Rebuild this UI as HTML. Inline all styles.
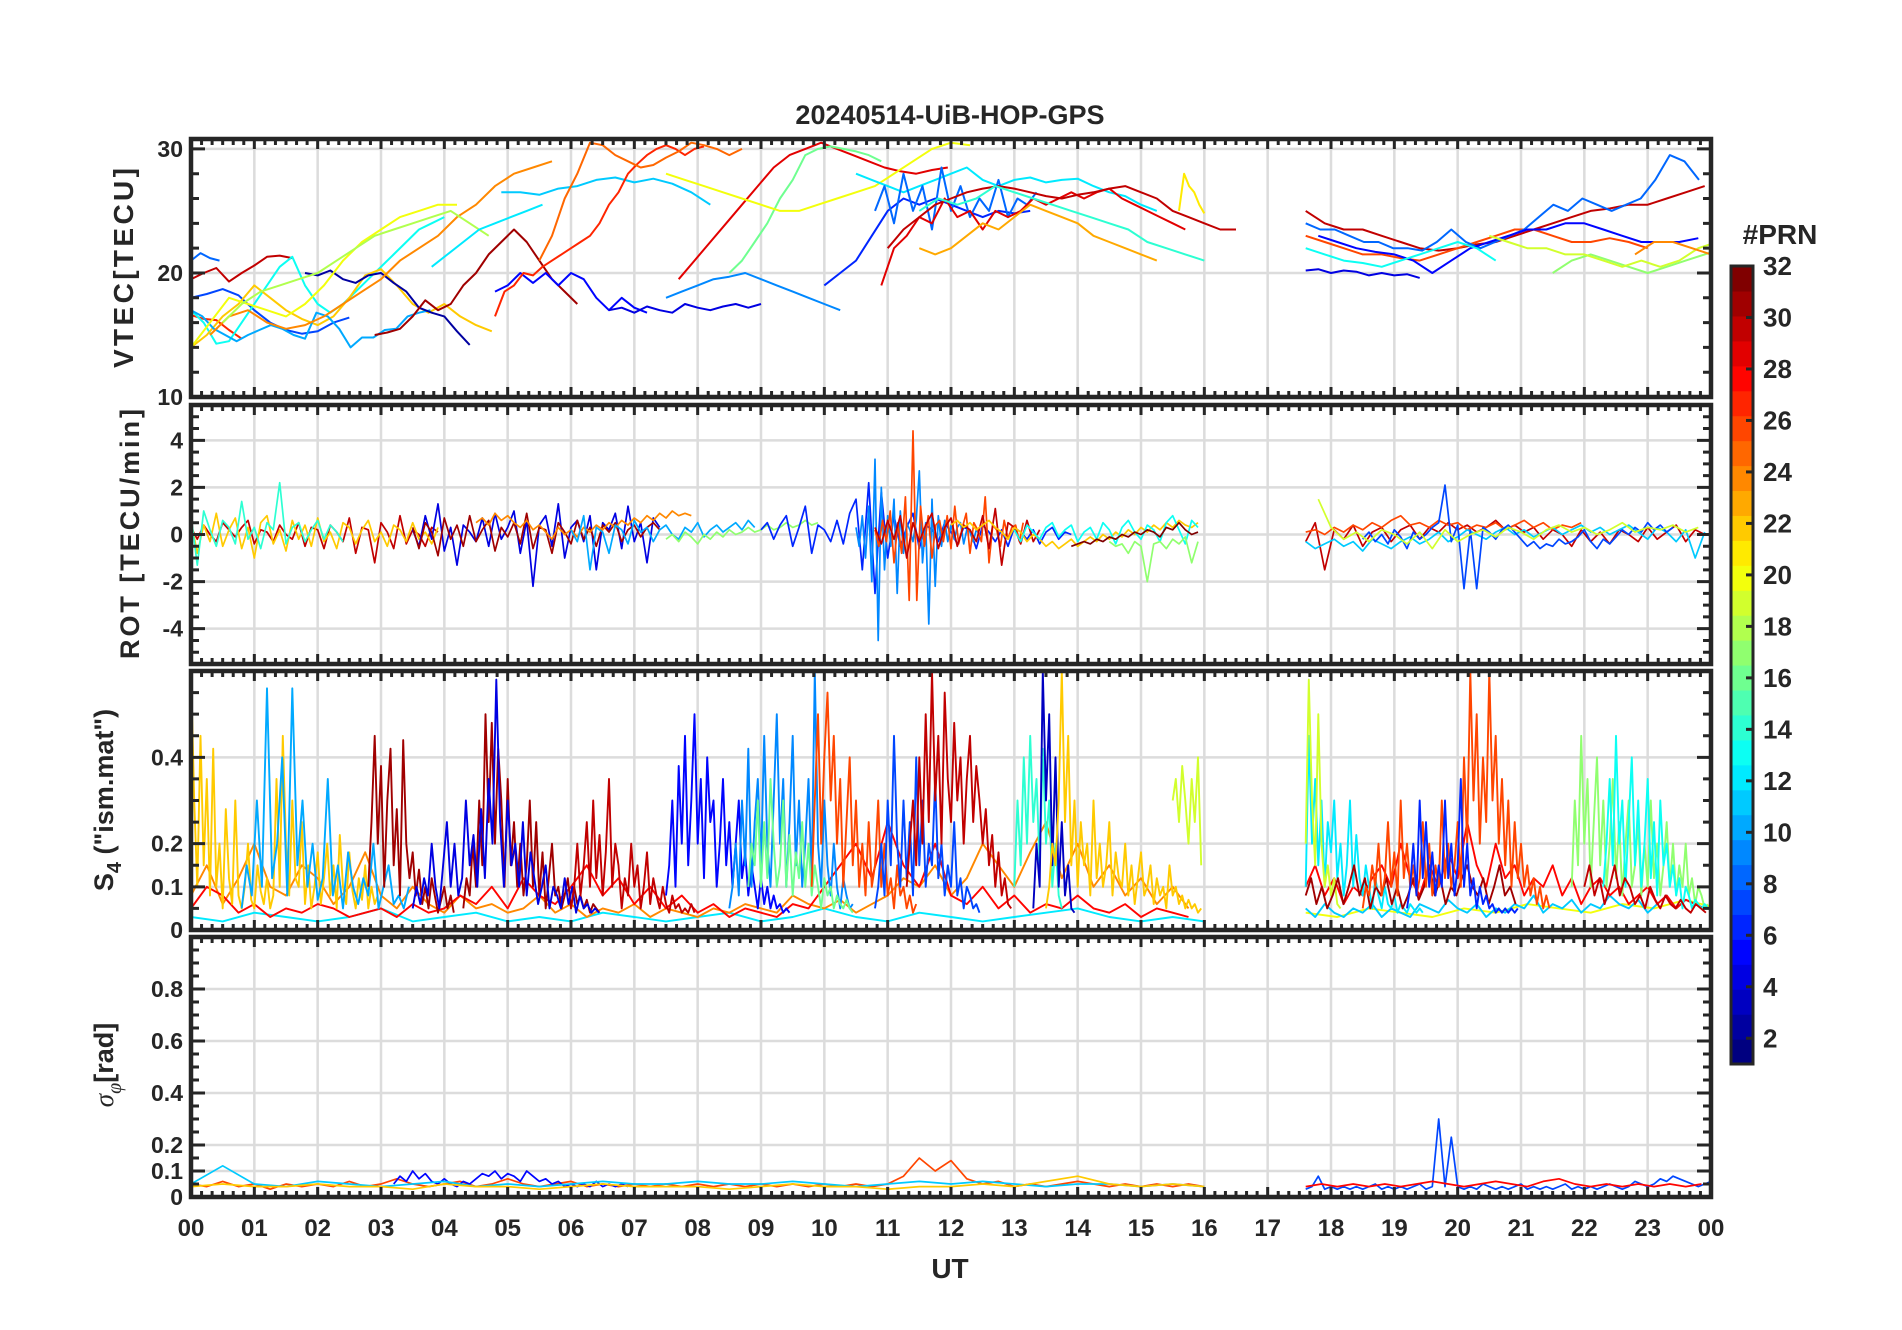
<!DOCTYPE html>
<html><head><meta charset="utf-8"><title>20240514-UiB-HOP-GPS</title>
<style>
html,body{margin:0;padding:0;background:#fff;}
#chart{display:block;width:1902px;height:1330px;}
text{font-family:"Liberation Sans",Arial,sans-serif;font-weight:bold;fill:#262626;}
</style></head>
<body>
<svg id="chart" xmlns="http://www.w3.org/2000/svg" width="1902" height="1330" viewBox="0 0 1902 1330">
<rect x="0" y="0" width="1902" height="1330" fill="#fff"/>
<text x="950" y="124" text-anchor="middle" font-size="27">20240514-UiB-HOP-GPS</text>
<text x="950" y="1278" text-anchor="middle" font-size="28">UT</text>
<text transform="translate(133,268) rotate(-90)" text-anchor="middle" font-size="28" textLength="200">VTEC[TECU]</text>
<text transform="translate(139,534) rotate(-90)" text-anchor="middle" font-size="27" textLength="250">ROT [TECU/min]</text>
<text transform="translate(113,800) rotate(-90)" text-anchor="middle" font-size="27">S<tspan font-size="20" dy="8">4</tspan><tspan dy="-8"> ("ism.mat")</tspan></text>
<text transform="translate(113,1065) rotate(-90)" text-anchor="middle" font-size="27"><tspan font-family="Liberation Serif" font-style="italic" font-weight="normal">σ</tspan><tspan font-size="20" dy="8" font-family="Liberation Serif" font-style="italic" font-weight="normal">φ</tspan><tspan dy="-8">[rad]</tspan></text>
<text x="1780" y="244" text-anchor="middle" font-size="28">#PRN</text>
<g id="layer"></g>
</svg>
<script>
// ---------- data ----------
const hourTickLabels = ["00","01","02","03","04","05","06","07","08","09","10","11","12","13","14","15","16","17","18","19","20","21","22","23","00"];
const vtecTicks = [10,20,30];
const rotTicks = [-4,-2,0,2,4];
const s4Ticks = [0,0.1,0.2,0.4];
const sigTicks = [0,0.1,0.2,0.4,0.6,0.8];
const prnTicks = [2,4,6,8,10,12,14,16,18,20,22,24,26,28,30,32];

// VTEC series
const vtecPrn   = [8,30,7,27,13,22,10,2,24,20,18,12,11,31,5,27,25,4,9,29,16,20,6,12,8,29,30,23,14,21,30,4,26,8,5,17,19,13,24];
const vtecStart = [0,0,0,0,0,0,0,1.8,0.3,0,0.5,3.8,4.9,2.9,4.8,4.8,5.5,6.6,7.5,7.7,8.5,7.5,10,10.5,10.8,10.9,11,11.5,11.5,15.6,17.6,17.6,17.6,17.6,17.8,21.5,20.5,17.6,22.8];
const vtecStep  = [0.15,0.2,0.25,0.2,0.2,0.25,0.18,0.2,0.3,0.3,0.3,0.25,0.3,0.2,0.2,0.15,0.2,0.2,0.25,0.25,0.2,0.3,0.25,0.25,0.15,0.2,0.25,0.25,0.3,0.08,0.3,0.2,0.3,0.23,0.3,0.3,0.3,0.3,0.3];
const vtecVals = [
 [21,21.6,21.2,21],
 [19.5,20,20.4,19.3,20,20.6,21.3,21.4,21.2],
 [18,18.3,18.7,18.2,17,16,15.4,15.1,15.3,16,16.4],
 [16.6,16.3,16.2,15.4,14.7],
 [17,16,14.3,14.5,16,17.5,19,20.5,21.3,19,17.5,16.8,17.5,18.5,19.5,20.5,21.5,22.5,23.5,24,24.5],
 [14,15,16.5,17.5,19,18,17,16.3,15.8,16.5,18,19.8,20.3,19,17.5,16.8,17.5,16.5,15.8,15.3],
 [17,16.5,15.5,15,14.5,15,15.4,15.8,15.5,15,14.7,16.8,16.5,15.5,14,14.8,14.8,15.4,15.5,16.5,16.8,17],
 [20,19.8,20.2,19.5,19.2,19.8,20,19.2,18.5,17.2,16.8,16.5,15.3,14.2],
 [15,16.5,17,16,15.5,15.8,16.5,17.5,18.5,19.5,21,22,23,24.5,25.5,27,28,28.5,29],
 [14,16,18,17.5,17,16.5,17.5,19,21,22.5,23.5,24.5,25,25.5,25.5],
 [16,17.5,18.5,19,19.5,20,21,22,23,23.5,24,24.5,25,24,23],
 [20.5,21.5,22.5,23.5,24,24.5,25,25.5],
 [26.5,26.5,26.3,26.8,27,27.5,27.7,27.3,27.6,27.2,26.5,25.5],
 [15,15.2,15.5,16.5,17.8,17,17.5,19,20,21.5,22.5,23.5,22.5,21,19.5,18.5,17.5],
 [18.5,19,20,19.2,20,19,20,19.5,18,17,18,17.2,16.8],
 [16.5,18.5,19,20,19.8,20.5,21,21.5,22,22.5,23,24,25.5,26.5,28,28.8,29.5,30,30.3,30,29.5,30,30.2],
 [21,23,26,28,30.5,30.3,29.5,29,28.5,28.7,29.3,29.8,30.5,30.3,30,29.5,30],
 [17,17.2,16.8,17.3,17,16.8,17.5,17.2,17,17.3,17.5,17.2,17.5],
 [18,18.5,19,19.5,19.7,20,19.5,19,18.5,18,17.5,17],
 [19.5,21,22.5,24,25.5,27,28.5,29.5,30,30.5,30,29.5,29,28.5,28.2,28,28.3,28.5],
 [20,21,22.5,24,26,27.5,29.5,30,30.2,30,29.8,29.5,29],
 [28,27.5,27,26.5,26,25.5,25,25,25.5,26,26.5,27,28,29,30,30.5,30.3],
 [19,20,21,23,25,26,25.5,26,25.5,25,24.5,25,24.8,25],
 [28,27.5,27,26.5,27,27.5,28,28.5,27.5,27,27.5,27.7,27.3,27.5,27.6,27,26.5,26.2,25.5,25],
 [25,27,24,28,25,27,23.5,28.5,25,27,24.5,26,25,27.5,24.5,26,25.5,26.5],
 [19,22,23,24.5,24,26,24.5,25,23.5,25,24.5,25,26,25.5,26,26.5,26,26.5,26.8,26,25.5,25,24.5,24,23.5],
 [22,23.5,24.5,25.5,26,26.5,26.8,27,26.8,26.5,26.2,26,26.3,26.5,26.8,27,26.5,26,25,24.5,24,23.5,23.5],
 [22,21.5,22,23,24,23.5,24.5,25.5,25,24.5,24,23,22.5,22,21.5,21],
 [25,26,25.5,26,27,26.5,26,25.5,25,24.5,24,23.5,22.5,22,21.5,21],
 [25,28,27,26.5,25.5,24.8],
 [25,24,23.5,23.5,23,22.5,22,21.8,22,22.3,22.5,23,23.5,24,24.5,25,25.2,25.5,25.5,26,26.5,27],
 [20.2,20.3,20,20.2,20.1,19.8,20,19.8,19.9,19.6],
 [23,22.5,22,21.5,21.5,21.2,21,21.5,22,22.5,23,23.5,23.5,23,22.5,22.5,22.8,22.5,22],
 [24,23.5,23.5,23,22.5,22.5,22,22,21.8,22.5,23.5,22.5,22,22.5,23,23.5,24.5,25.5,25,26,25.5,25,25.5,26,27.5,29.5,29,27.5],
 [23,22.5,22,21.7,21.5,21,20,21,22,22.5,23,23.5,23.5,24,24,23.5,23,22.5,22.5,22.5,22.8],
 [20,21,21.5,21,20.5,20,20.5,21,21.5,22],
 [23,22.5,22,22,21.5,21.5,21,20.5,21,20.5,21,22,22.5,23],
 [22,21.5,21,20.8,20.5,21,21.5,22,22.5,22,21],
 [21.5,22.5,22.5,22,21.5]
];

// ROT series
const rotPrn   = [30,22,14,4,31,24,10,17,6,9,26,30,22,13,32,17,30,26,11,7,19];
const rotStart = [0,0,0,3.5,3.5,4.5,6,7.5,9,10.5,10.8,10.8,12,13,13.9,14.5,17.6,17.6,17.6,18.5,17.8];
const rotStep  = [0.1,0.1,0.1,0.1,0.1,0.1,0.1,0.1,0.1,0.05,0.06,0.1,0.1,0.1,0.1,0.1,0.15,0.15,0.15,0.1,0.2];
const rotVals = [
 [0.3,-0.2,0.4,0,-0.3,0.5,0.2,-0.1,0.3,0.6,-0.4,0.2,0.1,-0.3,0.4,0,-0.2,0.5,-0.5,0.3,0.2,-0.6,0.4,0.1,-0.3,0.7,-0.8,0.3,0.2,-1.2,0.5,0.1,-0.6,0.8,-0.4,0.2,0,-0.5,0.3,0.1],
 [0.6,-0.8,0.4,-0.3,0.9,-0.5,0.2,0.7,-0.6,0.3,-1,0.5,0.8,-0.4,0.2,-0.7,0.6,-0.2,0.4,-0.5,0.7,-0.3,0.1,-0.6,0.5,0.3,-0.4,0.2,0.6,-0.3,0.1,-0.5,0.4,0.2,-0.3,0.5,-0.2,0.1,-0.4,0.3],
 [0.8,-1.3,1,0.2,-0.5,0.6,0.3,-0.4,1.4,-0.2,0.3,-0.6,0.5,0.2,2.2,-0.4,0.3,0.5,-0.3,0.2,0.6,-0.2,0.4,0.1,-0.3],
 [0.2,-0.5,0.8,-0.2,1.3,-0.7,0.3,-1.3,0.4,0.1,-0.3,0.7,-0.5,0.9,-0.2,0.3,1,-0.8,0.6,-2.2,0.4,0.8,-0.5,1.3,-1,0.3,0.6,-0.3,0.8,-1.5,0.5,0.2,0.9,-0.6,1.2,-0.3,0.5,-1.2,0.7,0.3],
 [0.3,-0.6,0.5,0.1,-0.9,0.7,-0.2,0.4,-0.5,0.8,-0.3,0.2,0.6,-0.7,0.3,-0.1,0.5,-0.4,0.9,-0.6,0.3,0.2,-0.8,0.5,0.1,-0.4,0.6,-0.2,0.3,-0.5,0.4,0.1,0.5,-0.3,0.2,0.4,-0.1,0.3,0.5,0.2],
 [0.5,0.7,0.4,0.9,0.6,0.8,0.5,0.3,0.6,0.2,0.4,0.1,-0.2,0.3,0,0.2,-0.1,0.3,0.1,0.4,0.2,0.5,0.3,0.6,0.4,0.7,0.5,0.8,0.6,0.9,0.7,1,0.8,0.9,0.8],
 [0.2,-0.3,0.8,-1.5,0.3,0.1,-0.8,0.4,0.2,-0.4,0.6,0.1,0.3,-0.3,0.2,0.4,0,-0.2,0.3,0.1,0.5,-0.1,0.2,0.4,0.1,0.3,0.5,0.2,0.6,0.3],
 [-0.2,0,-0.3,0.1,-0.1,-0.4,0,-0.2,0.1,-0.1,0.2,0,0.1,0.3,0.1,0.2,0.4,0.2,0.3,0.5,0.3,0.4,0.6,0.4,0.5],
 [0.2,0.5,-0.2,0.4,0.8,-0.5,0.3,1.2,-0.8,0.4,0.2,-0.3,0.6,-0.4,0.9,1.5,-1.5,2.2,-2.5,1.8,-1,0.8,-0.5,0.3,0.9,-0.6,0.4,0.2,-0.3,0.5,0.1,-0.4,0.3,0.2,-0.6,0.4,0.1,-0.3,0.2,-0.5,0.3,0.1,-0.2,0.2,-0.4,0.1,0.3,-0.2,0.1,0],
 [0.3,-0.5,0.8,-1,1.2,-2,3.2,-4.5,2,-1.5,0.8,-0.5,1.5,-2.5,1,-0.8,0.5,0.2,-0.3,0.6,2.7,-1.2,0.5,-3.8,1.5,-2.2,0.8,-0.5,0.6,-0.3,0.4,-0.2,0.3,0.5,-0.4,0.2,0.1,-0.3,0.2,0],
 [0.2,-0.5,0.6,-0.3,1,-1.2,0.5,-0.8,1.6,-2.8,4.4,-2.8,1.2,-0.5,0.8,-1,0.4,0.6,-0.3,0.8,-0.6,1.2,-0.4,0.3,0.9,-0.8,0.5,0.2,-0.3,1.6,-1.2,0.4,0.2,-0.5,0.6,-0.2,0.3,0.4,-0.3,0.5],
 [0.3,-0.4,0.6,-0.2,0.8,-1,0.5,-0.3,0.4,0.9,-0.6,0.3,0.7,-0.5,0.4,0.2,-0.3,0.8,-0.6,1.1,-1.3,0.5,0.3,-0.4,0.6,-0.3,0.2],
 [0.4,0.6,0.3,0.5,0.2,0.4,0.6,0.3,0.1,-0.2,0.3,0.1,-0.3,0,-0.2,-0.5,-0.3,-0.6,-0.4,-0.2,-0.5,-0.3,-0.1,-0.3,0,-0.2,0.1,-0.1,0.2,0,0.3,0.1,0.4,0.2,0.5,0.3,0.6,0.4,0.3,0.5],
 [0.2,-0.3,0.4,0.1,-0.2,0.3,0.5,-0.1,0.2,0.4,-0.3,0.1,0.3,-0.2,0.5,0.2,-0.4,0.3,0.6,0.1,-0.2,0.4,0.2,-0.3,0.5,0.8,0.2,-0.4,0.6,0.3],
 [-0.5,-0.4,-0.3,-0.4,-0.2,-0.3,-0.1,-0.2,0,-0.1,0.1,0,0.2,0.1,-0.1,0.3,0.2,0.5,0.2,0,0.1],
 [-0.3,-0.5,-0.4,-0.8,-0.3,-0.5,-2,-0.4,-0.3,-0.6,-0.2,-0.4,-0.1,-1.2,-0.3],
 [-0.3,0.5,-1.5,0.2,-0.2,0.4,-0.5,0.1,0.3,-0.3,0.2,0.4,-0.2,0.3,0.1,0.5,0.2,0.4,0.1,0.3,0.6,0.2,0.4,0.1,0.3,-0.2,0.2,0,-0.5,0.2,-0.3,0.1,-0.4,0.2,0,-0.3,0.3,-0.2,0.1,0.4,-0.3,0.2,0],
 [0.1,0.2,0,0.3,0.1,0.4,0.2,0.5,0.3,0.6,0.8,0.4,0.5,0.3,0.6,0.4,0.5,0.2,0.4,0.3,0.5,0.2,0.4,0.6,0.3,0.5,0.2,0.4,0.3,0.5],
 [-0.3,-0.6,-0.4,-0.2,-0.5,-0.3,-0.7,-0.2,-0.4,-0.6,-0.3,-0.1,-0.4,-0.2,0.1,-0.3,-0.1,0.2,0,-0.2,0.1,0.3,0,0.2,-0.1,0.1,0.3,0,0.2,0.4,0.1,0.3,0,0.2,0.4,0.1,-0.2,0.3,0.1,-0.3,0.2,-1,0.1],
 [-0.2,0.1,-0.3,0,-0.4,0.2,-0.1,-0.6,0.1,-0.2,0,0.3,0.5,2.1,-0.3,0.4,-2.3,0.2,-2.3,0.3,0.1,-0.2,0.2,0.4,0.1,-0.2,-0.5,-0.3,-0.6,-0.4,-0.5,-0.2,-0.4,-0.3,-0.1,0.2,-0.3,-0.6,-0.2,-0.4,-0.1,0.2,0,0.3,0.1,0.5,0.2,0.4,0.1,0.3],
 [1.5,0.3,-0.2,0.1,-0.3,0.2,0,-0.4,0.1,-0.6,0.2,-0.3,0,0.2,-0.1,0.3,0.1,-0.2,0.2,0.4,0.1,0.3,0,0.2,0.5,0.1,0.3,0.2,0.4,0.1,0.3]
];

// S4 series
const s4Prn   = [12,20,24,28,11,28,22,10,31,31,4,30,5,9,16,26,7,30,14,3,22,19,12,19,31,26,6,17,13,30];
const s4Start = [0,17.6,0,0,17.6,17.6,0,0.8,2.8,4.3,3.5,6,7.5,8.5,8.8,9.8,10.8,11.3,13,13.3,13.5,15.5,17.6,17.6,17.6,18.5,19.2,21.8,22.3,22];
const s4Step  = [0.5,0.5,0.25,0.25,0.15,0.15,0.05,0.08,0.05,0.05,0.06,0.05,0.05,0.05,0.05,0.05,0.05,0.05,0.05,0.05,0.05,0.05,0.05,0.05,0.085,0.05,0.05,0.05,0.05,0.08];
const s4Vals = [
 [0.03,0.02,0.04,0.03,0.02,0.03,0.05,0.02,0.03,0.04,0.02,0.03,0.02,0.04,0.03,0.02,0.03,0.04,0.02,0.03,0.05,0.03,0.02,0.04,0.03,0.02,0.03,0.04,0.05,0.03,0.02,0.03,0.02],
 [0.04,0.03,0.05,0.04,0.03,0.05,0.04,0.06,0.05,0.04,0.06,0.05,0.07,0.05],
 [0.08,0.15,0.06,0.12,0.2,0.1,0.08,0.15,0.12,0.06,0.1,0.18,0.08,0.05,0.1,0.06,0.04,0.08,0.05,0.06,0.04,0.05,0.08,0.04,0.06,0.03,0.05,0.04,0.06,0.03,0.05,0.04,0.03,0.05,0.04,0.06,0.05,0.04,0.08,0.06,0.05,0.07,0.04,0.06,0.08,0.12,0.1,0.15,0.08,0.12,0.2,0.15,0.1,0.18,0.25,0.12,0.2,0.1,0.15,0.08,0.12,0.06,0.1,0.05],
 [0.05,0.1,0.08,0.04,0.06,0.03,0.05,0.04,0.06,0.05,0.03,0.04,0.05,0.03,0.06,0.04,0.05,0.08,0.06,0.1,0.05,0.12,0.08,0.06,0.1,0.15,0.08,0.12,0.06,0.1,0.05,0.08,0.04,0.06,0.03,0.05,0.04,0.03,0.06,0.05,0.1,0.15,0.2,0.12,0.25,0.15,0.1,0.2,0.08,0.06,0.1,0.05,0.08,0.04,0.06,0.05,0.08,0.05,0.04,0.06,0.03,0.05,0.04,0.03],
 [0.05,0.03,0.06,0.04,0.03,0.05,0.04,0.06,0.03,0.05,0.04,0.03,0.06,0.05,0.04,0.07,0.05,0.04,0.06,0.03,0.05,0.04,0.06,0.05,0.08,0.04,0.06,0.05,0.07,0.04,0.06,0.05,0.08,0.06,0.05,0.07,0.04,0.06,0.08,0.05,0.07,0.06,0.05],
 [0.1,0.15,0.08,0.12,0.06,0.1,0.08,0.12,0.15,0.1,0.2,0.12,0.08,0.15,0.1,0.18,0.12,0.25,0.15,0.1,0.2,0.12,0.15,0.08,0.12,0.1,0.15,0.08,0.12,0.06,0.1,0.12,0.08,0.1,0.06,0.08,0.1,0.06,0.08,0.05,0.07,0.06,0.05],
 [0.6,0.3,0.1,0.45,0.15,0.35,0.08,0.42,0.1,0.2,0.05,0.28,0.12,0.06,0.3,0.08,0.05,0.1,0.2,0.07,0.05,0.15,0.09,0.06,0.12,0.05,0.08,0.35,0.1,0.45,0.2,0.08,0.3,0.12,0.1,0.25,0.06,0.15,0.05,0.1,0.18,0.06,0.12,0.2,0.08,0.15,0.05,0.22,0.1,0.06,0.18,0.09,0.05,0.12,0.07,0.15,0.05,0.1,0.06,0.08],
 [0.05,0.15,0.08,0.3,0.1,0.56,0.12,0.2,0.4,0.08,0.56,0.15,0.3,0.1,0.2,0.07,0.12,0.35,0.08,0.15,0.05,0.18,0.1,0.06,0.12,0.08,0.2,0.05,0.1,0.15,0.06,0.08,0.05,0.1],
 [0.1,0.25,0.45,0.2,0.38,0.1,0.3,0.42,0.15,0.28,0.08,0.44,0.2,0.12,0.18,0.08,0.14,0.06,0.1,0.05,0.12,0.08,0.04,0.07,0.1,0.05,0.08,0.04],
 [0.05,0.12,0.08,0.2,0.1,0.3,0.15,0.5,0.25,0.48,0.2,0.42,0.3,0.1,0.35,0.15,0.25,0.1,0.2,0.08,0.15,0.3,0.1,0.25,0.08,0.18,0.05,0.12,0.2,0.08,0.1,0.05,0.08,0.12,0.05,0.1,0.06,0.08,0.05,0.07,0.04,0.06,0.05,0.04],
 [0.05,0.1,0.06,0.12,0.08,0.2,0.1,0.05,0.15,0.25,0.1,0.2,0.08,0.12,0.3,0.15,0.22,0.1,0.28,0.12,0.35,0.2,0.58,0.25,0.1,0.3,0.15,0.2,0.1,0.25,0.08,0.18,0.12,0.06,0.1,0.15,0.05,0.1,0.08,0.05,0.12,0.06,0.1,0.04,0.08,0.05,0.06,0.04,0.05,0.04],
 [0.05,0.1,0.2,0.08,0.15,0.25,0.1,0.3,0.12,0.22,0.08,0.18,0.35,0.1,0.2,0.15,0.05,0.12,0.08,0.2,0.1,0.15,0.05,0.1,0.18,0.06,0.12,0.08,0.05,0.1,0.06,0.04,0.08,0.05,0.06,0.04,0.05,0.04,0.06,0.04],
 [0.08,0.15,0.3,0.1,0.38,0.2,0.45,0.15,0.3,0.5,0.2,0.35,0.12,0.4,0.25,0.3,0.1,0.2,0.35,0.15,0.25,0.1,0.2,0.3,0.12,0.18,0.08,0.15,0.1,0.05,0.12,0.06,0.1,0.05,0.08,0.05,0.06,0.04,0.05,0.04],
 [0.05,0.1,0.2,0.08,0.3,0.15,0.42,0.1,0.25,0.35,0.15,0.45,0.2,0.1,0.3,0.5,0.2,0.35,0.1,0.25,0.45,0.15,0.3,0.1,0.2,0.35,0.12,0.6,0.2,0.1,0.3,0.15,0.08,0.2,0.1,0.05,0.12,0.08,0.05,0.06],
 [0.1,0.2,0.15,0.3,0.1,0.25,0.12,0.35,0.2,0.1,0.15,0.3,0.1,0.22,0.08,0.18,0.12,0.25,0.1,0.2,0.08,0.15,0.1,0.05,0.12,0.08,0.1,0.05,0.08,0.06,0.05,0.07,0.05,0.04],
 [0.1,0.3,0.5,0.2,0.4,0.55,0.3,0.45,0.2,0.35,0.1,0.25,0.4,0.15,0.3,0.1,0.2,0.08,0.25,0.1,0.15,0.3,0.1,0.2,0.08,0.12,0.05,0.15,0.08,0.1,0.05,0.08,0.04,0.06],
 [0.05,0.1,0.2,0.08,0.3,0.15,0.45,0.2,0.1,0.3,0.12,0.25,0.08,0.4,0.15,0.3,0.1,0.2,0.15,0.35,0.12,0.2,0.08,0.15,0.1,0.25,0.08,0.12,0.05,0.1,0.08,0.05,0.06,0.04],
 [0.1,0.2,0.3,0.15,0.4,0.2,0.5,0.25,0.6,0.3,0.45,0.2,0.55,0.35,0.25,0.48,0.3,0.4,0.2,0.35,0.45,0.25,0.38,0.3,0.2,0.28,0.15,0.22,0.1,0.18,0.08,0.12,0.06,0.05],
 [0.1,0.3,0.15,0.4,0.2,0.45,0.25,0.35,0.15,0.42,0.2,0.3,0.1,0.2,0.08,0.05],
 [0.05,0.2,0.1,0.6,0.3,0.5,0.15,0.4,0.1,0.25,0.08,0.15,0.05,0.04],
 [0.05,0.1,0.2,0.15,0.3,0.6,0.25,0.45,0.15,0.3,0.1,0.25,0.15,0.2,0.08,0.3,0.12,0.2,0.1,0.15,0.25,0.08,0.18,0.12,0.1,0.2,0.08,0.15,0.06,0.12,0.18,0.08,0.1,0.15,0.06,0.12,0.08,0.1,0.05,0.15,0.08,0.1,0.06,0.08,0.05,0.07,0.05,0.06,0.04,0.05],
 [0.3,0.35,0.25,0.38,0.3,0.2,0.35,0.25,0.4,0.15],
 [0.1,0.45,0.2,0.35,0.15,0.3,0.1,0.25,0.18,0.3,0.12,0.2,0.08,0.15,0.3,0.1,0.22,0.12,0.08,0.15,0.1,0.05,0.12,0.08,0.05,0.1,0.06,0.05,0.08,0.04,0.06,0.05,0.04,0.06,0.05,0.04,0.05,0.04],
 [0.2,0.58,0.3,0.15,0.5,0.2,0.1,0.15,0.08,0.12,0.06,0.05],
 [0.08,0.12,0.06,0.1,0.05,0.08,0.12,0.06,0.1,0.15,0.08,0.12,0.05,0.1,0.08,0.12,0.06,0.1,0.05,0.08,0.12,0.07,0.1,0.15,0.08,0.12,0.06,0.1,0.08,0.12,0.15,0.1,0.08,0.12,0.06,0.1,0.15,0.08,0.1,0.06],
 [0.05,0.1,0.08,0.15,0.1,0.2,0.08,0.12,0.25,0.1,0.18,0.08,0.3,0.12,0.2,0.1,0.15,0.08,0.12,0.25,0.1,0.2,0.08,0.15,0.1,0.3,0.12,0.2,0.1,0.15,0.25,0.1,0.4,0.2,0.6,0.3,0.5,0.2,0.4,0.25,0.6,0.3,0.45,0.2,0.35,0.15,0.3,0.1,0.25,0.12,0.2,0.1,0.15,0.08,0.12,0.06,0.1,0.05,0.08,0.05],
 [0.05,0.1,0.2,0.08,0.3,0.12,0.25,0.1,0.18,0.08,0.15,0.1,0.3,0.12,0.2,0.08,0.15,0.35,0.1,0.2,0.08,0.12,0.05,0.1,0.06,0.08,0.05,0.06,0.04,0.05,0.04,0.05,0.04,0.05,0.04,0.05],
 [0.1,0.3,0.15,0.45,0.2,0.35,0.1,0.25,0.4,0.15,0.3,0.1,0.2,0.35,0.12,0.25,0.08,0.2,0.3,0.1,0.15,0.25,0.08,0.2,0.1,0.3,0.12,0.2,0.08,0.15,0.25,0.1,0.2,0.08,0.15,0.1,0.2,0.08,0.12,0.06,0.1,0.08,0.05,0.06],
 [0.1,0.2,0.35,0.15,0.45,0.2,0.3,0.1,0.25,0.4,0.15,0.3,0.1,0.2,0.35,0.12,0.25,0.08,0.3,0.15,0.2,0.1,0.15,0.08,0.12,0.05,0.1,0.08,0.05,0.07,0.06,0.05,0.06,0.05],
 [0.1,0.15,0.08,0.12,0.06,0.1,0.15,0.08,0.12,0.1,0.06,0.08,0.05,0.1,0.07,0.05,0.08,0.06,0.05,0.07,0.05,0.04,0.06,0.05,0.04]
];

// Sigma-phi series
const sigPrn   = [26,5,11,22,7,28];
const sigStart = [0,3.2,0,0,17.6,17.6];
const sigStep  = [0.25,0.1,0.5,0.5,0.1,0.25];
const sigVals = [
 [0.05,0.04,0.06,0.04,0.05,0.03,0.05,0.04,0.05,0.04,0.06,0.04,0.05,0.07,0.05,0.04,0.05,0.06,0.04,0.05,0.07,0.05,0.04,0.05,0.06,0.04,0.05,0.04,0.05,0.04,0.05,0.04,0.05,0.04,0.05,0.04,0.05,0.04,0.05,0.04,0.05,0.04,0.05,0.04,0.05,0.08,0.15,0.1,0.14,0.07,0.05,0.06,0.04,0.05,0.04,0.05,0.06,0.05,0.04,0.05,0.04,0.05,0.04,0.05,0.04],
 [0.05,0.08,0.06,0.1,0.07,0.09,0.06,0.05,0.07,0.05,0.04,0.06,0.05,0.07,0.09,0.08,0.1,0.07,0.09,0.08,0.06,0.1,0.08,0.06,0.07,0.05,0.06,0.04,0.05,0.04,0.05,0.04,0.06,0.04,0.05,0.04,0.05,0.04],
 [0.05,0.12,0.05,0.04,0.06,0.05,0.04,0.05,0.06,0.04,0.05,0.04,0.05,0.06,0.05,0.05,0.06,0.05,0.05,0.06,0.05,0.04,0.05,0.06,0.05,0.06,0.05,0.04,0.05,0.05,0.04,0.05,0.04],
 [0.04,0.05,0.04,0.04,0.05,0.04,0.04,0.03,0.05,0.04,0.04,0.03,0.04,0.05,0.04,0.04,0.04,0.03,0.04,0.05,0.04,0.04,0.03,0.04,0.04,0.05,0.04,0.06,0.08,0.05,0.04,0.05,0.04],
 [0.03,0.04,0.08,0.03,0.04,0.03,0.04,0.03,0.04,0.03,0.04,0.05,0.03,0.04,0.03,0.04,0.03,0.04,0.05,0.03,0.04,0.3,0.04,0.23,0.04,0.03,0.04,0.03,0.05,0.04,0.03,0.04,0.03,0.04,0.05,0.03,0.04,0.03,0.04,0.03,0.04,0.05,0.03,0.04,0.03,0.04,0.03,0.04,0.05,0.04,0.03,0.04,0.06,0.05,0.04,0.05,0.07,0.06,0.08,0.07,0.06,0.05,0.04,0.05,0.06],
 [0.04,0.05,0.04,0.05,0.04,0.05,0.04,0.05,0.06,0.05,0.04,0.05,0.06,0.05,0.04,0.06,0.07,0.05,0.04,0.05,0.04,0.05,0.04,0.05,0.04,0.05]
];

// ---------- rendering ----------
const NS = "http://www.w3.org/2000/svg";
const layer = document.getElementById("layer");
const X0 = 191, X1 = 1711;
const xs = h => X0 + (X1 - X0) * h / 24;
function jet(v){
  const c = t => Math.round(255 * Math.max(0, Math.min(1, 1.5 - Math.abs(t))));
  return "rgb(" + c(4*v-3) + "," + c(4*v-2) + "," + c(4*v-1) + ")";
}
const prnColor = p => jet((p - 1) / 31);
function mk(tag, attrs, parent){
  const e = document.createElementNS(NS, tag);
  for (const k in attrs) e.setAttribute(k, attrs[k]);
  (parent || layer).appendChild(e);
  return e;
}
const panels = [
  {name:"vtec", top:139, bot:397, min:10, max:30.8, ticks:vtecTicks, minor:2, prn:vtecPrn, start:vtecStart, step:vtecStep, vals:vtecVals, lw:2},
  {name:"rot", top:405, bot:664, min:-5.5, max:5.5, ticks:rotTicks, minor:0.5, prn:rotPrn, start:rotStart, step:rotStep, vals:rotVals, lw:1.7},
  {name:"s4", top:671, bot:930, min:0, max:0.6, ticks:s4Ticks, minor:0.05, prn:s4Prn, start:s4Start, step:s4Step, vals:s4Vals, lw:1.9},
  {name:"sigma", top:937, bot:1197, min:0, max:1, ticks:sigTicks, minor:0.05, prn:sigPrn, start:sigStart, step:sigStep, vals:sigVals, lw:1.7}
];
panels.forEach((p, pi) => {
  const ys = v => p.bot - (v - p.min) / (p.max - p.min) * (p.bot - p.top);
  const g = mk("g", {});
  
  
  for (let h = 1; h < 24; h++){
    const l = mk("line", {x1:xs(h), x2:xs(h), y1:p.top, y2:p.bot, stroke:"#dcdcdc", "stroke-width":2.5}, g);
    
    
  }
  p.ticks.forEach(v => {
    const l = mk("line", {x1:X0, x2:X1, y1:ys(v), y2:ys(v), stroke:"#dcdcdc", "stroke-width":2.5}, g);
    
    
  });
  const cg = mk("g", {"clip-path":"url(#clip" + pi + ")"}, g);
  const cp = mk("clipPath", {id:"clip" + pi}, g);
  mk("rect", {x:X0, y:p.top, width:X1 - X0, height:p.bot - p.top}, cp);
  p.vals.forEach((arr, si) => {
    let d = "";
    arr.forEach((v, i) => {
      const h = p.start[si] + i * p.step[si];
      d += (i ? "L" : "M") + xs(h).toFixed(1) + "," + ys(v).toFixed(1);
    });
    const path = mk("path", {d:d, fill:"none", stroke:prnColor(p.prn[si]), "stroke-width":p.lw, "stroke-linejoin":"round"}, cg);
    
    
  });
  let td = "";
  for (let m = 0; m <= 144; m++){
    const x = xs(m / 6), len = (m % 6 === 0) ? 10 : 6;
    td += "M" + x + "," + p.top + "v" + len + "M" + x + "," + p.bot + "v" + (-len);
  }
  for (let v = p.min; v <= p.max + 1e-9; v += p.minor){
    const vv = Math.round(v * 1000) / 1000;
    const major = p.ticks.some(t => Math.abs(t - vv) < 1e-6);
    const len = major ? 14 : 8;
    td += "M" + X0 + "," + ys(vv) + "h" + len + "M" + X1 + "," + ys(vv) + "h" + (-len);
  }
  const ticks = mk("path", {d:td, stroke:"#262626", "stroke-width":3, fill:"none"}, g);
  
  
  const frame = mk("rect", {x:X0, y:p.top, width:X1 - X0, height:p.bot - p.top, fill:"none", stroke:"#262626", "stroke-width":4.5}, g);
  
  
  p.ticks.forEach(v => {
    const t = mk("text", {x:X0 - 8, y:ys(v) + 8, "text-anchor":"end", "font-size":23}, g);
    t.textContent = String(v);
    
    
  });
});
hourTickLabels.forEach((lab, i) => {
  const t = mk("text", {x:xs(i), y:1236, "text-anchor":"middle", "font-size":24});
  t.textContent = lab;
  
  
});
const CB = {x:1731, w:22, top:266, bot:1064, min:1, max:32};
const cbY = v => CB.bot - (v - CB.min) / (CB.max - CB.min) * (CB.bot - CB.top);
const cbg = mk("g", {});


const segH = (CB.bot - CB.top) / 32;
for (let k = 0; k < 32; k++){
  const r = mk("rect", {x:CB.x, y:CB.bot - (k + 1) * segH, width:CB.w, height:segH + 0.6, fill:prnColor(k + 1)}, cbg);
  
  
}
const cbf = mk("rect", {x:CB.x, y:CB.top, width:CB.w, height:CB.bot - CB.top, fill:"none", stroke:"#262626", "stroke-width":3}, cbg);


prnTicks.forEach(v => {
  const y = cbY(v);
  const tl = mk("line", {x1:CB.x + CB.w - 7, x2:CB.x + CB.w, y1:y, y2:y, stroke:"#262626", "stroke-width":3}, cbg);
  
  
  const t = mk("text", {x:CB.x + CB.w + 10, y:y + 9, "font-size":26}, cbg);
  t.textContent = String(v);
  
  
});
</script>
</body></html>
